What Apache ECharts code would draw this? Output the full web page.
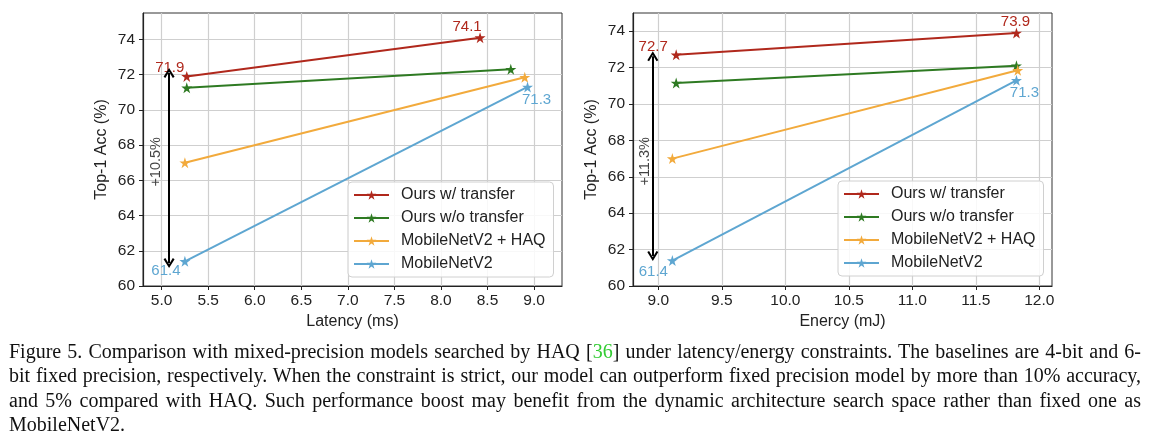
<!DOCTYPE html>
<html><head><meta charset="utf-8">
<script src="https://cdn.jsdelivr.net/npm/echarts@6/dist/echarts.min.js"></script>
<style>
html,body{margin:0;padding:0;background:#fff;}
#wrap{position:relative;width:1159px;height:440px;overflow:hidden;background:#fff;}
#chart{position:absolute;left:0;top:0;width:1159px;height:340px;}
#caption{position:absolute;left:9px;top:339px;width:1132px;font-family:"Liberation Serif","Times New Roman",serif;font-size:20px;line-height:24.3px;color:#111;}
#caption div{text-align:justify;text-align-last:justify;}
#caption div.last{text-align-last:left;}
#caption .ref{color:#33cc33;}
</style>
</head><body>
<div id="wrap">
<div id="chart"></div>
<div id="caption">
<div>Figure 5. Comparison with mixed-precision models searched by HAQ [<span class="ref">36</span>] under latency/energy constraints. The baselines are 4-bit and 6-</div>
<div>bit fixed precision, respectively. When the constraint is strict, our model can outperform fixed precision model by more than 10% accuracy,</div>
<div>and 5% compared with HAQ. Such performance boost may benefit from the dynamic architecture search space rather than fixed one as</div>
<div class="last">MobileNetV2.</div>
</div>
</div>
<script>
// ---------- data ----------
const seriesNames = ['Ours w/ transfer', 'Ours w/o transfer', 'MobileNetV2 + HAQ', 'MobileNetV2'];

// Left panel: latency (ms) vs Top-1 accuracy (%)
const latOursT = [5.27, 8.42];  const accLatOursT = [71.9, 74.1];
const latOursNT = [5.27, 8.75]; const accLatOursNT = [71.25, 72.3];
const latHAQ = [5.25, 8.90];    const accLatHAQ = [67.0, 71.85];
const latMB = [5.25, 8.93];     const accLatMB = [61.4, 71.3];

// Right panel: energy (mJ) vs Top-1 accuracy (%)
const enOursT = [9.14, 11.82];  const accEnOursT = [72.7, 73.9];
const enOursNT = [9.14, 11.82]; const accEnOursNT = [71.15, 72.1];
const enHAQ = [9.11, 11.83];    const accEnHAQ = [67.0, 71.85];
const enMB = [9.11, 11.82];     const accEnMB = [61.4, 71.3];

// ticks
const latTicks = [5.0, 5.5, 6.0, 6.5, 7.0, 7.5, 8.0, 8.5, 9.0];
const enTicks = [9.0, 9.5, 10.0, 10.5, 11.0, 11.5, 12.0];
const accTicks = [60, 62, 64, 66, 68, 70, 72, 74];

// annotations (arrow ends, gain text)
const latArrow = {x: 5.08, y1: 72.1, y2: 61.3, textX: 4.94, textY: 67.05, text: '+10.5%'};
const enArrow = {x: 8.956, y1: 72.62, y2: 61.65, textX: 8.895, textY: 66.85, text: '+11.3%'};

// ---------- styles ----------
const colors = ['#b0281c', '#2e7a22', '#f2aa3c', '#5ea6d1'];
const star = 'path://M50,0 L61.23,34.55 L97.55,34.55 L68.17,55.9 L79.39,90.45 L50,69.1 L20.61,90.45 L31.83,55.9 L2.45,34.55 L38.77,34.55 Z';
const chevron = 'path://M0,8.5 L5,0 L10,8.5 L8.4,9.5 L5,3.6 L1.6,9.5 Z';
const FONT = '"Liberation Sans", Arial, sans-serif';
const labelOffsets = [
  {0: [[-17, -9], [-13, -11]], 3: [[-19, 10], [9, 13]]},
  {0: [[-23, -8], [-1, -11]], 3: [[-19, 11], [8, 13]]}
];

const panels = [
  {xs: [latOursT, latOursNT, latHAQ, latMB], ys: [accLatOursT, accLatOursNT, accLatHAQ, accLatMB],
   xmin: 4.8, xmax: 9.3, ymax: 75.5, split: 9, ticks: latTicks, name: 'Latency (ms)', arrow: latArrow,
   grid: {left: 143, top: 13, width: 419, height: 273}, legend: {left: 348, top: 182}},
  {xs: [enOursT, enOursNT, enHAQ, enMB], ys: [accEnOursT, accEnOursNT, accEnHAQ, accEnMB],
   xmin: 8.8, xmax: 12.1, ymax: 75, split: 7, ticks: enTicks, name: 'Enercy (mJ)', arrow: enArrow,
   grid: {left: 633, top: 13, width: 419, height: 273}, legend: {left: 838, top: 181}}
];

const option = {
  animation: false,
  backgroundColor: '#fff',
  textStyle: {fontFamily: FONT},
  grid: [], xAxis: [], yAxis: [], series: [], legend: []
};

panels.forEach((p, pi) => {
  option.grid.push(Object.assign({show: true, borderColor: '#333', borderWidth: 1, backgroundColor: 'transparent'}, p.grid));
  option.xAxis.push({
    type: 'value', gridIndex: pi, min: p.xmin, max: p.xmax, splitNumber: p.split,
    name: p.name, nameLocation: 'middle', nameGap: 27,
    nameTextStyle: {fontSize: 16, color: '#222', fontFamily: FONT},
    axisLine: {show: true, lineStyle: {color: '#222', width: 1.2}},
    axisTick: {show: true, length: 4, lineStyle: {color: '#222'}, customValues: p.ticks},
    axisLabel: {fontSize: 15.5, color: '#222', margin: 7, fontFamily: FONT, customValues: p.ticks,
                formatter: v => v.toFixed(1)},
    splitLine: {show: true, lineStyle: {color: '#cfcfcf', width: 1.2}}
  });
  option.yAxis.push({
    type: 'value', gridIndex: pi, min: 60, max: p.ymax, interval: 2,
    name: 'Top-1 Acc (%)', nameLocation: 'middle', nameGap: 33,
    nameTextStyle: {fontSize: 16, color: '#222', fontFamily: FONT},
    axisLine: {show: true, lineStyle: {color: '#222', width: 1.2}},
    axisTick: {show: true, length: 4, lineStyle: {color: '#222'}, customValues: accTicks},
    axisLabel: {fontSize: 15.5, color: '#222', margin: 8, fontFamily: FONT, customValues: accTicks},
    splitLine: {show: true, lineStyle: {color: '#cfcfcf', width: 1.2}}
  });
  seriesNames.forEach((nm, si) => {
    const offs = labelOffsets[pi][si];
    const data = p.xs[si].map((x, k) => {
      const item = {value: [x, p.ys[si][k]]};
      if (offs) {
        item.label = {show: true, position: 'inside', offset: offs[k], color: colors[si],
                      fontSize: 15, fontFamily: FONT,
                      formatter: q => q.value[1].toFixed(1)};
      }
      return item;
    });
    option.series.push({
      type: 'line', name: nm, xAxisIndex: pi, yAxisIndex: pi, data: data,
      symbol: star, symbolSize: 11, showSymbol: true,
      itemStyle: {color: colors[si]}, lineStyle: {color: colors[si], width: 2},
      label: {show: false}, z: 3 + si
    });
  });
  const a = p.arrow;
  option.series.push({
    type: 'scatter', name: 'annot' + pi, xAxisIndex: pi, yAxisIndex: pi,
    data: [[a.textX, a.textY]], symbol: 'circle', symbolSize: 2,
    itemStyle: {color: 'rgba(0,0,0,0)'}, silent: true,
    label: {show: true, position: 'inside', rotate: 90, formatter: a.text, fontSize: 14.5,
            color: '#111', fontFamily: FONT},
    markLine: {
      silent: true, symbol: [chevron, chevron], symbolSize: [11, 10],
      lineStyle: {color: '#000', width: 2, type: 'solid'}, label: {show: false},
      data: [[{coord: [a.x, a.y1]}, {coord: [a.x, a.y2]}]]
    }, z: 10
  });
  option.legend.push(Object.assign({
    orient: 'vertical', data: seriesNames, itemWidth: 35, itemHeight: 12, itemGap: 7,
    backgroundColor: 'rgba(255,255,255,0.85)', borderColor: '#d0d0d0', borderWidth: 1, borderRadius: 4,
    padding: [5, 8, 5, 5], selectedMode: false,
    textStyle: {fontSize: 16, color: '#222', fontFamily: FONT, padding: [0, 0, 0, 7]}
  }, p.legend));
});

const chart = echarts.init(document.getElementById('chart'), null, {renderer: 'canvas'});
chart.setOption(option);
</script>
</body></html>
